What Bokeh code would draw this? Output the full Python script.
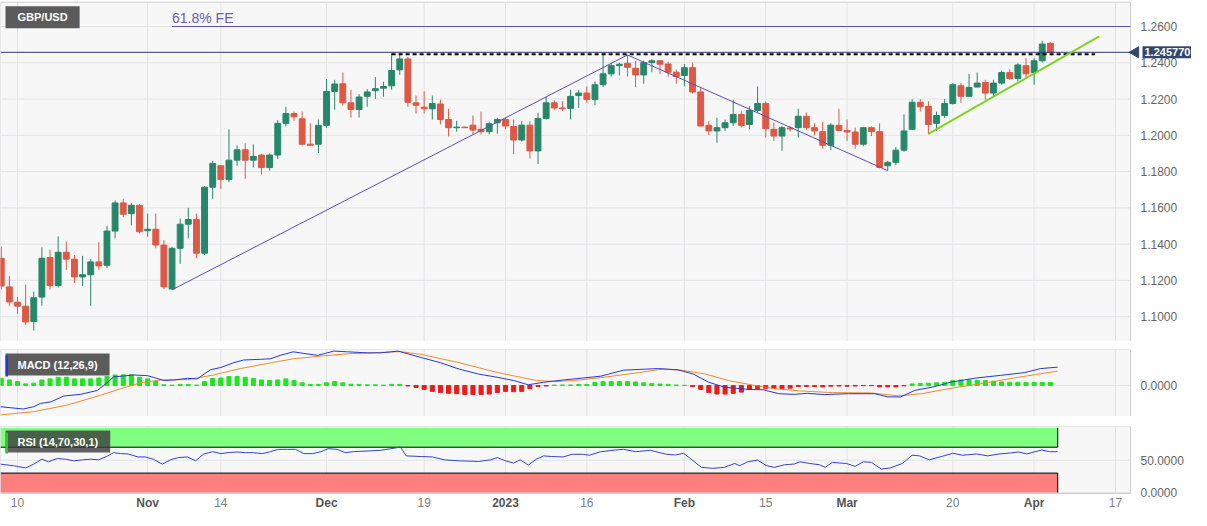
import numpy as np
import pandas as pd
from bokeh.plotting import figure
from bokeh.layouts import column
from bokeh.models import Range1d, Label
from bokeh.core.properties import value
from bokeh.embed import file_html
from bokeh.resources import INLINE

# ---------------- data ----------------
dates = pd.bdate_range("2022-10-06", "2023-04-05")   # daily candles, weekdays

opens = [1.1322,1.1164,1.1080,1.1058,1.0973,1.1108,1.1326,1.1171,1.1355,1.1317,
         1.1219,1.1231,1.1302,1.1283,1.1472,1.1627,1.1568,1.1614,1.1474,1.1482,
         1.1395,1.1153,1.1377,1.1510,1.1536,1.1350,1.1714,1.1832,1.1756,1.1863,
         1.1920,1.1863,1.1891,1.1822,1.1891,1.2066,1.2120,1.2091,1.1951,1.1951,
         1.2055,1.2242,1.2284,1.2179,1.2142,1.2215,1.2246,1.2260,1.2273,1.2361,
         1.2421,1.2179,1.2155,1.2146,1.2173,1.2087,1.2042,1.2045,1.2056,1.2033,
         1.2020,1.2069,1.2087,1.2048,1.1974,1.2056,1.1914,1.2093,1.2179,1.2151,
         1.2148,1.2219,1.2233,1.2197,1.2279,1.2339,1.2384,1.2397,1.2370,1.2333,
         1.2401,1.2411,1.2393,1.2348,1.2330,1.2373,1.2239,1.2055,1.2024,1.2042,
         1.2069,1.2115,1.2060,1.2137,1.2175,1.2033,1.1996,1.2040,1.2042,1.2105,
         1.2042,1.2020,1.1945,1.2055,1.2027,1.2018,1.1951,1.2042,1.2020,1.1832,
         1.1851,1.1918,1.2033,1.2182,1.2160,1.2066,1.2109,1.2175,1.2273,1.2215,
         1.2266,1.2291,1.2233,1.2288,1.2346,1.2313,1.2384,1.2346,1.2411,1.2507]
highs = [1.1386,1.1224,1.1109,1.1177,1.1137,1.1382,1.1369,1.1443,1.1414,1.1340,
         1.1335,1.1317,1.1410,1.1501,1.1641,1.1650,1.1627,1.1620,1.1568,1.1568,
         1.1422,1.1385,1.1541,1.1600,1.1568,1.1720,1.1860,1.1835,1.2033,1.1945,
         1.1956,1.1950,1.1898,1.1900,1.2084,1.2157,1.2131,1.2131,1.2066,1.2087,
         1.2310,1.2306,1.2346,1.2251,1.2227,1.2255,1.2321,1.2295,1.2452,1.2448,
         1.2433,1.2219,1.2242,1.2219,1.2197,1.2146,1.2080,1.2048,1.2109,1.2131,
         1.2075,1.2097,1.2097,1.2087,1.2078,1.2078,1.2124,1.2212,1.2193,1.2188,
         1.2251,1.2251,1.2270,1.2297,1.2443,1.2400,1.2400,1.2443,1.2411,1.2411,
         1.2420,1.2415,1.2405,1.2362,1.2393,1.2401,1.2264,1.2078,1.2097,1.2087,
         1.2195,1.2133,1.2160,1.2269,1.2188,1.2069,1.2051,1.2051,1.2146,1.2125,
         1.2066,1.2075,1.2067,1.2146,1.2087,1.2042,1.2042,1.2049,1.2066,1.1860,
         1.1936,1.2115,1.2200,1.2200,1.2188,1.2130,1.2200,1.2288,1.2288,1.2339,
         1.2346,1.2306,1.2306,1.2357,1.2364,1.2397,1.2425,1.2425,1.2521,1.2515]
lows = [1.1150,1.1060,1.1016,1.0955,1.0923,1.1060,1.1150,1.1160,1.1258,1.1186,
        1.1169,1.1060,1.1258,1.1268,1.1432,1.1550,1.1503,1.1460,1.1441,1.1377,
        1.1153,1.1148,1.1291,1.1432,1.1322,1.1340,1.1650,1.1705,1.1741,1.1832,
        1.1760,1.1823,1.1784,1.1805,1.1869,1.2048,1.2080,1.1945,1.1942,1.1902,
        1.2040,1.2142,1.2164,1.2098,1.2098,1.2158,1.2200,1.2213,1.2251,1.2333,
        1.2157,1.2120,1.2120,1.2087,1.2060,1.1993,1.2020,1.2040,1.2005,1.2005,
        1.2005,1.2009,1.2035,1.1896,1.1965,1.1873,1.1842,1.2087,1.2138,1.2135,
        1.2087,1.2151,1.2179,1.2166,1.2266,1.2324,1.2330,1.2324,1.2266,1.2284,
        1.2348,1.2339,1.2324,1.2284,1.2270,1.2230,1.2051,1.2001,1.1960,1.2024,
        1.2051,1.2042,1.2033,1.2124,1.1987,1.1969,1.1915,1.2020,1.1987,1.2030,
        1.2000,1.1926,1.1918,1.2022,1.1969,1.1926,1.1940,1.1996,1.1818,1.1805,
        1.1836,1.1909,1.2033,1.2131,1.2005,1.2024,1.2096,1.2170,1.2179,1.2211,
        1.2266,1.2197,1.2215,1.2279,1.2306,1.2297,1.2315,1.2279,1.2401,1.2452]
closes = [1.1169,1.1081,1.1058,1.0971,1.1104,1.1322,1.1171,1.1355,1.1317,1.1219,
          1.1231,1.1302,1.1280,1.1472,1.1627,1.1565,1.1614,1.1468,1.1482,1.1395,
          1.1164,1.1377,1.1510,1.1536,1.1350,1.1714,1.1845,1.1756,1.1863,1.1920,
          1.1863,1.1884,1.1822,1.1891,1.2066,1.2120,1.2102,1.1951,1.1945,1.2055,
          1.2242,1.2283,1.2179,1.2142,1.2211,1.2239,1.2257,1.2269,1.2357,1.2421,
          1.2182,1.2166,1.2146,1.2175,1.2087,1.2042,1.2045,1.2042,1.2029,1.2020,
          1.2064,1.2087,1.2051,1.1974,1.2056,1.1914,1.2093,1.2179,1.2151,1.2146,
          1.2215,1.2233,1.2197,1.2279,1.2339,1.2384,1.2392,1.2375,1.2333,1.2401,
          1.2411,1.2392,1.2348,1.2324,1.2373,1.2239,1.2051,1.2024,1.2042,1.2069,
          1.2115,1.2055,1.2137,1.2175,1.2036,1.1996,1.2042,1.2035,1.2105,1.2042,
          1.2024,1.1945,1.2056,1.2027,1.2018,1.1951,1.2042,1.2020,1.1823,1.1851,
          1.1918,1.2024,1.2182,1.2157,1.2060,1.2109,1.2175,1.2279,1.2215,1.2264,
          1.2288,1.2233,1.2288,1.2346,1.2313,1.2388,1.2339,1.2411,1.2503,1.24577]

# MACD (12,26,9) lines, read at these bar positions (bar 0 = 10 Oct 2022)
macd_x = [-2.1,0.7,2.0,2.8,4.1,5.7,7.7,9.8,11.1,11.8,14.3,16.0,16.7,18.0,19.2,20.9,22.1,
          23.7,25.0,26.6,27.8,29.9,31.1,32.3,33.9,35.2,36.9,38.9,40.6,43.0,44.6,46.8,
          49.7,52.0,54.3,56.7,59.0,61.0,62.8,64.7,67.1,69.5,71.7,74.5,78.8,81.2,83.1,
          85.0,86.9,89.8,91.7,93.6,95.5,97.1,99.2,102.2,105.4,107.0,108.6,110.3,112.7,
          114.7,117.7,120.9,123.8,125.8,127.9]
macd_v = [-0.0119,-0.0132,-0.0119,-0.0101,-0.0092,-0.0059,-0.0050,-0.0028,0.0018,0.0048,
          0.0059,0.0055,0.0046,0.0028,0.0031,0.0040,0.0037,0.0088,0.0101,0.0128,0.0143,
          0.0147,0.0150,0.0169,0.0189,0.0180,0.0169,0.0193,0.0189,0.0183,0.0183,0.0193,
          0.0156,0.0128,0.0092,0.0064,0.0046,0.0028,0.0004,0.0018,0.0031,0.0042,0.0052,
          0.0086,0.0095,0.0088,0.0064,0.0018,-0.0009,-0.0022,-0.0024,-0.0046,-0.0050,
          -0.0044,-0.0051,-0.0046,-0.0046,-0.0064,-0.0064,-0.0028,-0.0007,0.0018,0.0041,
          0.0057,0.0072,0.0095,0.0103]
signal_x = [-2.1,2.0,6.1,10.2,12.7,15.1,17.6,20.9,24.1,27.4,30.7,33.9,37.3,40.6,47.1,49.7,
            54.3,59.0,63.8,66.2,68.5,71.7,76.5,79.3,81.6,84.6,87.4,90.7,93.1,96.4,100.2,
            105.0,108.3,111.2,114.5,118.3,122.1,127.9]
signal_v = [-0.0165,-0.0147,-0.0110,-0.0055,-0.0018,0.0015,0.0031,0.0033,0.0059,0.0095,
            0.0123,0.0150,0.0165,0.0178,0.0190,0.0174,0.0128,0.0073,0.0028,0.0022,0.0028,
            0.0044,0.0073,0.0092,0.0086,0.0064,0.0028,0.0000,-0.0018,-0.0031,-0.0040,
            -0.0042,-0.0058,-0.0046,-0.0018,0.0009,0.0039,0.0081]
hist = [0.0040,0.0031,0.0022,0.0009,0.0013,0.0031,0.0037,0.0046,0.0046,0.0037,
        0.0037,0.0037,0.0042,0.0050,0.0059,0.0060,0.0060,0.0046,0.0037,0.0024,
        0.0004,0.0002,0.0006,0.0006,0.0002,0.0022,0.0040,0.0042,0.0050,0.0051,
        0.0046,0.0040,0.0031,0.0028,0.0031,0.0037,0.0028,0.0015,0.0006,0.0006,
        0.0015,0.0022,0.0015,0.0007,0.0006,0.0004,0.0004,0.0002,0.0006,0.0006,
        -0.0003,-0.0011,-0.0022,-0.0033,-0.0039,-0.0044,-0.0046,-0.0050,-0.0051,-0.0050,
        -0.0048,-0.0039,-0.0033,-0.0035,-0.0033,-0.0018,-0.0006,-0.0003,0.0002,0.0003,
        0.0003,0.0006,0.0006,0.0017,0.0022,0.0022,0.0022,0.0022,0.0020,0.0015,
        0.0011,0.0008,0.0006,0.0003,0.0001,-0.0006,-0.0022,-0.0039,-0.0048,-0.0048,
        -0.0044,-0.0037,-0.0022,-0.0018,-0.0017,-0.0017,-0.0017,-0.0015,-0.0006,-0.0006,
        -0.0006,-0.0008,-0.0004,-0.0003,-0.0004,-0.0003,-0.0001,-0.0001,-0.0008,-0.0008,
        -0.0008,-0.0002,0.0009,0.0011,0.0013,0.0015,0.0018,0.0028,0.0031,0.0031,
        0.0029,0.0028,0.0024,0.0020,0.0018,0.0018,0.0017,0.0017,0.0017,0.0017]

# RSI (14) read at these bar positions
rsi_x = [-2.1,-0.5,1.0,2.0,3.0,3.8,4.9,5.9,6.9,8.0,9.0,10.0,11.1,11.8,12.7,13.6,14.8,15.7,
         16.7,17.8,18.8,19.8,20.9,21.9,22.9,24.0,25.0,25.9,27.0,28.0,29.0,30.1,31.1,32.1,
         33.2,34.2,35.2,36.3,37.3,38.2,39.3,40.3,41.3,43.0,44.6,45.9,47.1,47.8,49.7,51.0,
         52.5,54.3,56.7,58.2,59.0,60.0,61.0,61.8,62.8,63.8,64.7,65.7,67.1,68.2,69.5,70.3,
         71.7,73.5,74.5,76.0,77.8,79.8,80.9,81.9,84.1,85.5,86.9,88.2,88.8,89.8,91.0,92.1,
         93.1,94.3,95.5,96.2,97.4,98.6,99.3,100.2,101.9,103.0,104.0,105.0,106.2,107.3,
         108.8,110.0,110.9,112.1,113.6,115.0,116.2,117.9,119.3,120.7,122.1,123.1,124.1,
         125.9,126.9,127.9]
rsi_v = [43.9,41.4,37.9,43.9,51.5,47.5,52.5,51.5,49.0,50.5,51.5,50.5,56.6,61.6,60.1,59.6,
         55.0,55.0,51.5,43.9,50.5,54.0,55.0,49.0,59.6,63.1,60.1,61.6,62.6,61.6,61.6,60.1,
         63.1,66.7,66.7,66.7,60.1,60.1,63.1,67.7,66.7,61.6,63.1,64.1,65.2,67.7,70.2,56.6,
         55.6,55.0,50.5,49.0,48.0,50.5,54.0,49.0,45.5,50.5,42.4,51.5,56.6,55.6,55.0,59.1,
         59.1,57.6,63.0,65.7,66.7,63.1,65.2,59.1,58.0,60.6,38.9,37.4,38.9,44.9,41.4,47.5,
         50.0,41.4,38.9,42.9,44.0,47.5,44.9,42.9,38.9,46.5,44.9,40.4,47.5,46.5,36.4,37.9,
         44.9,57.6,56.6,50.5,55.6,60.6,57.6,59.6,56.6,59.6,61.1,62.6,59.6,65.7,63.1,63.1]

price_ticks = [1.1000, 1.1200, 1.1400, 1.1600, 1.1800, 1.2000, 1.2200, 1.2400, 1.2600]
macd_ticks = [0.0]
rsi_ticks = [0.0, 50.0]
tick_dates = ["2022-10-10","2022-11-01","2022-11-14","2022-12-01","2022-12-19","2023-01-02",
              "2023-01-16","2023-02-01","2023-02-15","2023-03-01","2023-03-20","2023-04-03",
              "2023-04-17"]
tick_labels = ["10","Nov","14","Dec","19","2023","16","Feb","15","Mar","20","Apr","17"]
tick_bold = [False,True,False,True,False,True,False,True,False,True,False,True,False]

fe_level = 1.2600           # 61.8% Fibonacci expansion
resistance = 1.2447         # horizontal dashed resistance
res_from, res_to = 46, 132.5
zig_bars = [19, 75, 107]    # swing low, swing high, swing low
trend_x = [112, 133]
trend_y = [1.2008, 1.2546]
rsi_upper, rsi_lower = 70, 30

# ---------------- derived ----------------
base = pd.Timestamp("2022-10-10")
all_days = pd.bdate_range("2022-10-03", "2023-04-28")
origin = all_days.get_loc(base)
pos = np.array([all_days.get_loc(d) - origin for d in dates], dtype=float)
tick_pos = [all_days.get_loc(pd.Timestamp(d)) - origin for d in tick_dates]

o = np.array(opens); h = np.array(highs); l = np.array(lows); c = np.array(closes)
up = c >= o
GREEN = "#26876a"
RED = "#de5844"
col = np.where(up, GREEN, RED)

W = 1191
X0, X1 = -2.09, 136.85              # bar span of the chart area
PPU = 1130.0 / (X1 - X0)           # pixels per bar
xr = Range1d(X0, X0 + W / PPU)     # frame spans the whole width (labels inside)
FONT = "Liberation Sans"
BG = "#f7f7f8"
GRID = "#e3e3e6"
EDGE = "#cfcfd3"
LBL = "#666666"


def panel(height, top_border, y_lo, y_hi, area_lo, area_hi, yticks, fmt):
    p = figure(width=W, height=height, x_range=xr, y_range=Range1d(y_lo, y_hi),
               x_axis_location=None, y_axis_location=None, toolbar_location=None,
               output_backend="svg", min_border_left=0, min_border_right=0,
               min_border_top=top_border, min_border_bottom=0)
    p.background_fill_color = "white"
    p.border_fill_color = "white"
    p.outline_line_color = None
    p.xgrid.visible = False
    p.ygrid.visible = False
    p.quad(left=[X0], right=[X1], bottom=[area_lo], top=[area_hi], fill_color=BG,
           line_color=EDGE, line_width=1)
    p.segment(x0=X0, x1=X1, y0=yticks, y1=yticks, line_color=GRID, line_width=1)
    p.segment(x0=tick_pos, x1=tick_pos, y0=area_lo, y1=area_hi, line_color=GRID,
              line_width=1)
    p.text(x=[X1] * len(yticks), y=yticks, text=[fmt % t for t in yticks], x_offset=10,
           text_align="left", text_baseline="middle", text_font=value(FONT),
           text_font_size="12px", text_color=LBL)
    return p


def tag_label(p, y_top, text, bg, alpha, accent=None, units_per_px=None):
    p.add_layout(Label(x=X0, y=y_top, text=text, x_offset=5, y_offset=-4,
                       text_baseline="top", text_font=FONT, text_font_size="11px",
                       text_font_style="bold", text_color="white",
                       background_fill_color=bg, background_fill_alpha=alpha,
                       padding=(12, 5)))
    if accent is not None:
        r = p.quad(left=[X0 + 5 / PPU], right=[X0 + 7.5 / PPU],
                   top=[y_top - 6 * units_per_px], bottom=[y_top - 27 * units_per_px],
                   fill_color=accent, line_color=None)
        r.level = "overlay"


# ---------------- main price panel ----------------
PY0, PY1 = 1.0863, 1.2734
p1 = panel(341, 0, PY0, PY1 + 1.7 / 1813.5, PY0, PY1, price_ticks, "%.4f")

p1.segment(x0=pos, y0=h, x1=pos, y1=l, color=col, line_width=1)
p1.vbar(x=pos, top=np.maximum(o, c), bottom=np.minimum(o, c), width=0.72,
        fill_color=col, line_color=col, line_width=1)

plist = list(pos)
zi = [plist.index(b) for b in zig_bars]
zx = [pos[i] for i in zi]
zy = [l[zi[0]], h[zi[1]], l[zi[2]]]
p1.line(zx, zy, line_color="#5e4fae", line_width=1)
p1.segment(x0=[zx[0]], y0=[fe_level], x1=[X1], y1=[fe_level], line_color="#5e4fae",
           line_width=1)
p1.text(x=[zx[0]], y=[fe_level], text=["61.8% FE"], text_font=value(FONT),
        text_font_size="14px", text_color="#6a5bb5", text_baseline="bottom", y_offset=-1)
p1.segment(x0=[X0], y0=[c[-1]], x1=[X1], y1=[c[-1]], line_color="#2c3d63", line_width=1)
p1.segment(x0=[res_from], y0=[resistance], x1=[res_to], y1=[resistance],
           line_color="black", line_width=2, line_dash="4 3")
p1.line(trend_x, trend_y, line_color="#7ed321", line_width=2)

# last price tag on the price scale
TAG = "#34476a"
p1.scatter(x=[X1 + 5 / PPU], y=[c[-1]], marker="triangle", angle=np.pi / 2, size=11,
           fill_color=TAG, line_color=TAG)
p1.text(x=[X1], y=[c[-1]], text=["%.6f" % c[-1]], x_offset=12, text_align="left",
        text_baseline="middle", text_font=value(FONT), text_font_size="11px",
        text_font_style="bold", text_color="white", background_fill_color=TAG,
        padding=2)
tag_label(p1, PY1, "GBP/USD", "#5b5b5b", 1.0)

# ---------------- MACD panel ----------------
M0, M1 = -0.0174, 0.0202
p2 = panel(75, 8, M0, M1, M0, M1, macd_ticks, "%.4f")
hv = np.array(hist)
hcol = np.where(hv >= 0, "#1ee61e", "#ee1a1a")
p2.vbar(x=pos, top=hv, bottom=0, width=0.5, fill_color=hcol, line_color=hcol, line_width=1)
p2.line(signal_x, signal_v, line_color="#f08a2c", line_width=1)
p2.line(macd_x, macd_v, line_color="#2438d8", line_width=1)
tag_label(p2, M1, "MACD (12,26,9)", "#4e4e4e", 0.92, "#2438d8", (M1 - M0) / 67.0)

# ---------------- RSI panel (with the date scale under it) ----------------
R0, R1 = -1.5, 102.0
upp = (R1 - R0) / 67.0              # RSI units per pixel
p3 = panel(94, 10, R1 - 84 * upp, R1, R0, R1, rsi_ticks, "%.4f")
band_r = rsi_x[-1]
p3.quad(left=[X0], right=[band_r], bottom=[rsi_upper], top=[100], fill_color="#80ff80",
        line_color=None)
p3.quad(left=[X0], right=[band_r], bottom=[0], top=[rsi_lower], fill_color="#ff7f7f",
        line_color=None)
p3.segment(x0=[X0, band_r, X0, band_r], y0=[rsi_upper, rsi_upper, rsi_lower, 0],
           x1=[band_r, band_r, band_r, band_r], y1=[rsi_upper, 100, rsi_lower, rsi_lower],
           line_color="black", line_width=1)
p3.line(rsi_x, rsi_v, line_color="#3344cc", line_width=1)
tag_label(p3, R1, "RSI (14,70,30,1)", "#3a3a3a", 0.8, "#2fc42f", upp)

p3.text(x=tick_pos, y=[R0] * len(tick_pos), text=tick_labels, y_offset=9,
        text_align="center", text_baseline="middle", text_font=value(FONT),
        text_font_size="12px",
        text_font_style=["bold" if b else "normal" for b in tick_bold],
        text_color=["#555555" if b else "#808080" for b in tick_bold])

layout = column(p1, p2, p3, spacing=0)
open("out.html", "w").write(file_html(layout, INLINE))
